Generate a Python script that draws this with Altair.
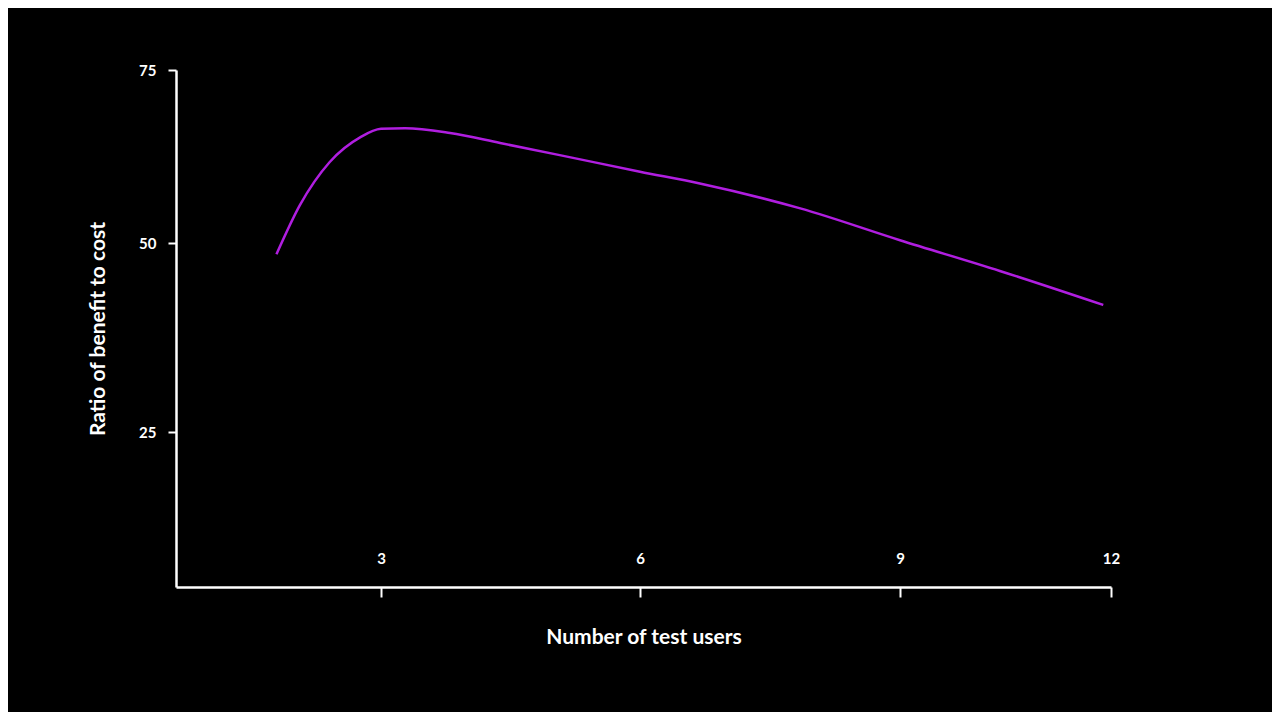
import altair as alt
import pandas as pd

users = [1.98, 2.21, 2.50, 2.80, 3.0, 3.28, 3.80, 4.38, 5.07, 6.0, 6.69, 7.85, 9.0, 10.42, 11.89]
ratio = [48.5, 55.5, 61.7, 65.3, 66.5, 66.6, 65.9, 64.45, 62.7, 60.3, 58.6, 55.0, 50.4, 46.3, 41.8]
x_ticks = [3, 6, 9, 12]
y_ticks = [25, 50, 75]

df = pd.DataFrame({"users": users, "ratio": ratio})

W, H = 935, 517
font = "Lato"

chart = alt.Chart(df).mark_line(color="#b01ee0", strokeWidth=2.5, interpolate="monotone").encode(
    x=alt.X("users:Q",
            scale=alt.Scale(domain=[1, 3, 6, 9, 12], range=[0, 205, 464, 724, 935], clamp=False),
            axis=alt.Axis(values=x_ticks, title="Number of test users", grid=False,
                          domainColor="white", domainWidth=2.5, tickColor="white", tickWidth=2,
                          tickSize=10, labelPadding=-46, labelFlush=False, labelColor="white",
                          labelFont=font, labelFontSize=15, labelFontWeight=700,
                          titleColor="white", titleFont=font, titleFontSize=21,
                          titleFontWeight=700, titleY=50, titleBaseline="middle")),
    y=alt.Y("ratio:Q",
            scale=alt.Scale(domain=[4, 25, 50, 75], range=[517, 362, 173, 0]),
            axis=alt.Axis(values=y_ticks, title="Ratio of benefit to cost", grid=False,
                          domainColor="white", domainWidth=2.5, tickColor="white", tickWidth=2,
                          tickSize=8, labelPadding=12, labelFlush=False, labelColor="white",
                          labelFont=font, labelFontSize=15, labelFontWeight=700,
                          titleColor="white", titleFont=font, titleFontSize=21,
                          titleFontWeight=700, titleX=-78, titleBaseline="middle")),
).properties(
    width=W, height=H, background="black",
    autosize=alt.AutoSizeParams(type="none"),
    padding={"left": 168, "top": 62, "right": 161, "bottom": 125},
).configure_view(stroke=None)

chart.save("out.html", embed_options={"renderer": "svg", "actions": False})
